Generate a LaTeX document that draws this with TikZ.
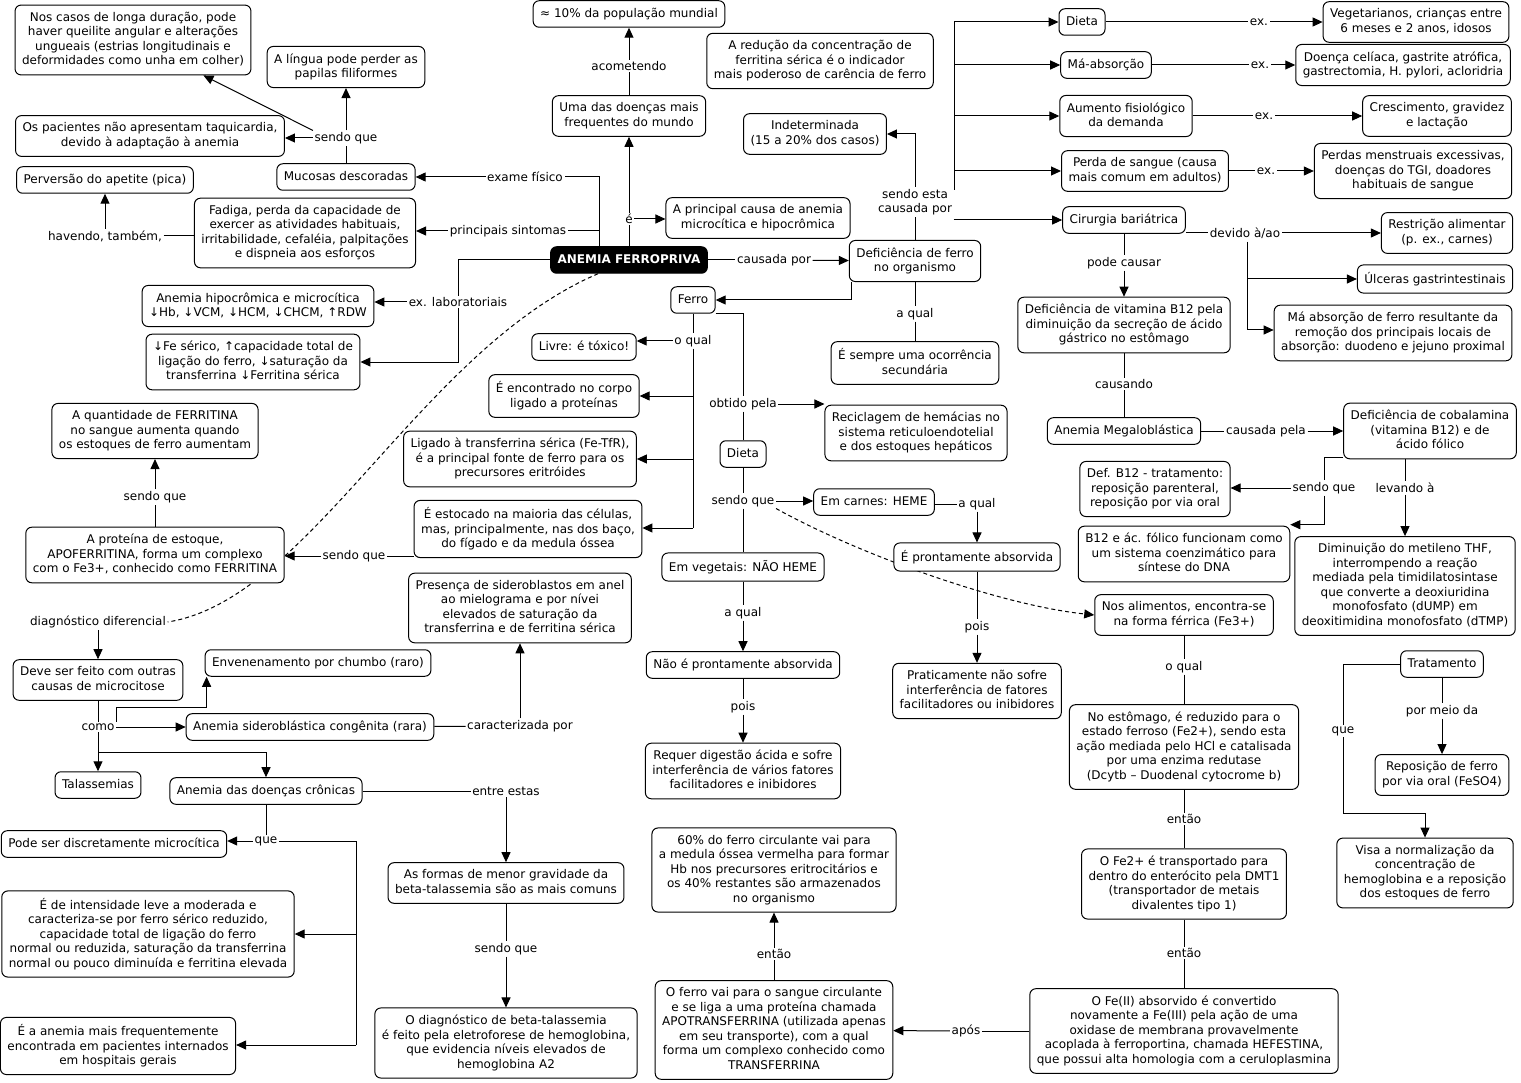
\documentclass[tikz,border=0pt]{standalone}
\usepackage{fontspec}
\newfontfamily\mfam{DejaVu Sans}
\usetikzlibrary{arrows.meta,backgrounds,calc}
\newcommand\mfnt{\mfam\fontsize{12}{14.5}\selectfont}
\newcommand\mfntb{\mfam\bfseries\fontsize{12}{14.5}\selectfont}
\newcommand\sst{\rule[-3pt]{0pt}{12.5pt}}
\begin{document}
\begin{tikzpicture}[x=1pt,y=-1pt,
 box/.style={draw, fill=white, rounded corners=6pt, align=center, inner xsep=7pt, inner ysep=7pt, font=\mfnt, execute at begin node=\sst, execute at end node=\sst, line width=1pt},
 mainbox/.style={box, fill=black, text=white, font=\mfntb},
 lbl/.style={fill=white, inner sep=1.5pt, font=\mfnt, align=center},
 con/.style={line width=1pt},
 arr/.style={con, -{Triangle[length=10pt,width=9pt]}},
 dsh/.style={con, dash pattern=on 4pt off 3pt},
]
\useasboundingbox (0,0) rectangle (1521,1083);
% ---------- boxes ----------
\node[box] (n_queil) at (133,40) {Nos casos de longa duração, pode\\haver queilite angular e alterações\\ungueais (estrias longitudinais e\\deformidades como unha em colher)};
\node[box] (n_lingua) at (346,67) {A língua pode perder as\\papilas filiformes};
\node[box] (n_taqui) at (150,136) {Os pacientes não apresentam taquicardia,\\devido à adaptação à anemia};
\node[box] (n_pica) at (105,180) {Perversão do apetite (pica)};
\node[box] (n_mucosas) at (346,177) {Mucosas descoradas};
\node[box] (n_fadiga) at (305,233) {Fadiga, perda da capacidade de\\exercer as atividades habituais,\\irritabilidade, cefaléia, palpitações\\e dispneia aos esforços};
\node[mainbox] (n_anemia) at (629,260) {ANEMIA FERROPRIVA};
\node[box] (n_uma) at (629,116) {Uma das doenças mais\\frequentes do mundo};
\node[box] (n_pop) at (629,14) {≈ 10\% da população mundial};
\node[box] (n_principal) at (758,218) {A principal causa de anemia\\microcítica e hipocrômica};
\node[box] (n_reducao) at (820,61) {A redução da concentração de\\ferritina sérica é o indicador\\mais poderoso de carência de ferro};
\node[box] (n_indet) at (815,134) {Indeterminada\\(15 a 20\% dos casos)};
\node[box] (n_deffe) at (915,261) {Deficiência de ferro\\no organismo};
\node[box] (n_dieta1) at (1082,22) {Dieta};
\node[box] (n_maabs) at (1106,65) {Má-absorção};
\node[box] (n_aumento) at (1126,116) {Aumento fisiológico\\da demanda};
\node[box] (n_perda) at (1145,171) {Perda de sangue (causa\\mais comum em adultos)};
\node[box] (n_cirurgia) at (1124,220) {Cirurgia bariátrica};
\node[box] (n_veg) at (1416,22) {Vegetarianos, crianças entre\\6 meses e 2 anos, idosos};
\node[box] (n_celiaca) at (1403,65) {Doença celíaca, gastrite atrófica,\\gastrectomia, H. pylori, acloridria};
\node[box] (n_cresc) at (1437,116) {Crescimento, gravidez\\e lactação};
\node[box] (n_perdas) at (1413,171) {Perdas menstruais excessivas,\\doenças do TGI, doadores\\habituais de sangue};
\node[box] (n_restr) at (1447,233) {Restrição alimentar\\(p. ex., carnes)};
\node[box] (n_ulceras) at (1435,279) {Úlceras gastrintestinais};
\node[box] (n_maabs2) at (1393,333) {Má absorção de ferro resultante da\\remoção dos principais locais de\\absorção: duodeno e jejuno proximal};
\node[box] (n_b12) at (1124,325) {Deficiência de vitamina B12 pela\\diminuição da secreção de ácido\\gástrico no estômago};
\node[box] (n_megalo) at (1124,431) {Anemia Megaloblástica};
\node[box] (n_cobal) at (1430,431) {Deficiência de cobalamina\\(vitamina B12) e de\\ácido fólico};
\node[box] (n_defb12) at (1155,489) {Def. B12 - tratamento:\\reposição parenteral,\\reposição por via oral};
\node[box] (n_coenz) at (1184,554) {B12 e ác. fólico funcionam como\\um sistema coenzimático para\\síntese do DNA};
\node[box] (n_thf) at (1405,586) {Diminuição do metileno THF,\\interrompendo a reação\\mediada pela timidilatosintase\\que converte a deoxiuridina\\monofosfato (dUMP) em\\deoxitimidina monofosfato (dTMP)};
\node[box] (n_trat) at (1442,664) {Tratamento};
\node[box] (n_repos) at (1442,775) {Reposição de ferro\\por via oral (FeSO4)};
\node[box] (n_visa) at (1425,873) {Visa a normalização da\\concentração de\\hemoglobina e a reposição\\dos estoques de ferro};
\node[box] (n_alim) at (1184,615) {Nos alimentos, encontra-se\\na forma férrica (Fe3+)};
\node[box] (n_estom) at (1184,747) {No estômago, é reduzido para o\\estado ferroso (Fe2+), sendo esta\\ação mediada pelo HCl e catalisada\\por uma enzima redutase\\(Dcytb – Duodenal cytocrome b)};
\node[box] (n_fe2) at (1184,884) {O Fe2+ é transportado para\\dentro do enterócito pela DMT1\\(transportador de metais\\divalentes tipo 1)};
\node[box] (n_fe3) at (1184,1031) {O Fe(II) absorvido é convertido\\novamente a Fe(III) pela ação de uma\\oxidase de membrana provavelmente\\acoplada à ferroportina, chamada HEFESTINA,\\que possui alta homologia com a ceruloplasmina};
\node[box] (n_ferrovai) at (774,1030) {O ferro vai para o sangue circulante\\e se liga a uma proteína chamada\\APOTRANSFERRINA (utilizada apenas\\em seu transporte), com a qual\\forma um complexo conhecido como\\TRANSFERRINA};
\node[box] (n_60) at (774,870) {60\% do ferro circulante vai para\\a medula óssea vermelha para formar\\Hb nos precursores eritrocitários e\\os 40\% restantes são armazenados\\no organismo};
\node[box] (n_sempre) at (915,363) {É sempre uma ocorrência\\secundária};
\node[box] (n_ferro) at (693,300) {Ferro};
\node[box] (n_livre) at (584,347) {Livre: é tóxico!};
\node[box] (n_encontrado) at (564,396) {É encontrado no corpo\\ligado a proteínas};
\node[box] (n_ligado) at (520,459) {Ligado à transferrina sérica (Fe-TfR),\\é a principal fonte de ferro para os\\precursores eritróides};
\node[box] (n_estocado) at (528,529) {É estocado na maioria das células,\\mas, principalmente, nas dos baço,\\do fígado e da medula óssea};
\node[box] (n_proteina) at (155,555) {A proteína de estoque,\\APOFERRITINA, forma um complexo\\com o Fe3+, conhecido como FERRITINA};
\node[box] (n_quant) at (155,431) {A quantidade de FERRITINA\\no sangue aumenta quando\\os estoques de ferro aumentam};
\node[box] (n_recicl) at (916,433) {Reciclagem de hemácias no\\sistema reticuloendotelial\\e dos estoques hepáticos};
\node[box] (n_dieta2) at (743,454) {Dieta};
\node[box] (n_carnes) at (874,502) {Em carnes: HEME};
\node[box] (n_pront) at (977,557) {É prontamente absorvida};
\node[box] (n_pratic) at (977,691) {Praticamente não sofre\\interferência de fatores\\facilitadores ou inibidores};
\node[box] (n_vegetais) at (743,567) {Em vegetais: NÃO HEME};
\node[box] (n_naopront) at (743,665) {Não é prontamente absorvida};
\node[box] (n_requer) at (743,771) {Requer digestão ácida e sofre\\interferência de vários fatores\\facilitadores e inibidores};
\node[box] (n_hipo) at (258,306) {Anemia hipocrômica e microcítica\\↓Hb, ↓VCM, ↓HCM, ↓CHCM, ↑RDW};
\node[box] (n_fes) at (253,362) {↓Fe sérico, ↑capacidade total de\\ligação do ferro, ↓saturação da\\transferrina ↓Ferritina sérica};
\node[box] (n_deve) at (98,680) {Deve ser feito com outras\\causas de microcitose};
\node[box] (n_envenen) at (318,663) {Envenenamento por chumbo (raro)};
\node[box] (n_sidero) at (310,727) {Anemia sideroblástica congênita (rara)};
\node[box] (n_presenca) at (520,608) {Presença de sideroblastos em anel\\ao mielograma e por nívei\\elevados de saturação da\\transferrina e de ferritina sérica};
\node[box] (n_talass) at (98,785) {Talassemias};
\node[box] (n_cronicas) at (266,791) {Anemia das doenças crônicas};
\node[box] (n_formas) at (506,883) {As formas de menor gravidade da\\beta-talassemia são as mais comuns};
\node[box] (n_diagbeta) at (506,1043) {O diagnóstico de beta-talassemia\\é feito pela eletroforese de hemoglobina,\\que evidencia níveis elevados de\\hemoglobina A2};
\node[box] (n_podeser) at (114,844) {Pode ser discretamente microcítica};
\node[box] (n_intens) at (148,934) {É de intensidade leve a moderada e\\caracteriza-se por ferro sérico reduzido,\\capacidade total de ligação do ferro\\normal ou reduzida, saturação da transferrina\\normal ou pouco diminuída e ferritina elevada};
\node[box] (n_amaisfreq) at (118,1046) {É a anemia mais frequentemente\\encontrada em pacientes internados\\em hospitais gerais};
% ---------- labels ----------
\node[lbl] (l_sq1) at (346,138) {sendo que};
\node[lbl] (l_exame) at (525,177) {exame físico};
\node[lbl] (l_sint) at (508,231) {principais sintomas};
\node[lbl] (l_havendo) at (105,236) {havendo, também,};
\node[lbl] (l_acomet) at (629,66) {acometendo};
\node[lbl] (l_e) at (629,219) {é};
\node[lbl] (l_causadapor) at (774,260) {causada por};
\node[lbl] (l_sendoesta) at (915,202) {sendo esta\\causada por};
\node[lbl] (l_ex1) at (1259,22) {ex.};
\node[lbl] (l_ex2) at (1260,65) {ex.};
\node[lbl] (l_ex3) at (1264,116) {ex.};
\node[lbl] (l_ex4) at (1266,171) {ex.};
\node[lbl] (l_devido) at (1245,233) {devido à/ao};
\node[lbl] (l_podecausar) at (1124,263) {pode causar};
\node[lbl] (l_causando) at (1124,384) {causando};
\node[lbl] (l_causadapela) at (1266,431) {causada pela};
\node[lbl] (l_sqc) at (1324,488) {sendo que};
\node[lbl] (l_lev) at (1405,488) {levando à};
\node[lbl] (l_pormeio) at (1442,711) {por meio da};
\node[lbl] (l_que2) at (1343,731) {que};
\node[lbl] (l_oq2) at (1184,667) {o qual};
\node[lbl] (l_ent1) at (1184,819) {então};
\node[lbl] (l_ent2) at (1184,953) {então};
\node[lbl] (l_apos) at (966,1031) {após};
\node[lbl] (l_ent3) at (774,954) {então};
\node[lbl] (l_aq1) at (915,314) {a qual};
\node[lbl] (l_oq1) at (693,341) {o qual};
\node[lbl] (l_obt) at (743,404) {obtido pela};
\node[lbl] (l_sq5) at (743,501) {sendo que};
\node[lbl] (l_aq2) at (977,504) {a qual};
\node[lbl] (l_pois1) at (977,627) {pois};
\node[lbl] (l_aq3) at (743,613) {a qual};
\node[lbl] (l_pois2) at (743,707) {pois};
\node[lbl] (l_sq3) at (354,556) {sendo que};
\node[lbl] (l_sq4) at (155,497) {sendo que};
\node[lbl] (l_lab) at (458,302) {ex. laboratoriais};
\node[lbl] (l_diag) at (98,622) {diagnóstico diferencial};
\node[lbl] (l_como) at (98,727) {como};
\node[lbl] (l_caract) at (520,726) {caracterizada por};
\node[lbl] (l_entre) at (506,791) {entre estas};
\node[lbl] (l_sq6) at (506,949) {sendo que};
\node[lbl] (l_que) at (266,841) {que};
% ---------- free ends ----------
\coordinate (c_tr) at (954,190);
\coordinate (c_dv) at (1247,242);
\coordinate (c_q2) at (1343,813);
\coordinate (c_f) at (693,528);
\coordinate (c_como) at (98,752);
\coordinate (c_que) at (356,1045);
% ---------- connectors ----------
\begin{pgfonlayer}{background}
\fill[white] (0,0) rectangle (1521,1083);
% top left
\draw[con] (n_mucosas) -- (l_sq1);
\draw[arr] (l_sq1) -- (n_lingua);
\draw[arr] (l_sq1.west) -- (l_sq1.west -| n_taqui.east);
\draw[arr] (l_sq1.north west) -- (n_queil);
\draw[con] ([xshift=-30pt]n_anemia.north) |- (l_exame.east);
\draw[con] ([xshift=-30pt]n_anemia.north) |- (l_sint.east);
\draw[arr] (l_exame.west) -- (l_exame.west -| n_mucosas.east);
\draw[arr] (l_sint.west) -- (l_sint.west -| n_fadiga.east);
\draw[con] (l_havendo.east) -- (l_havendo.east -| n_fadiga.west);
\draw[arr] (l_havendo) -- (n_pica);
% centre top
\draw[arr] (n_anemia) -- (n_uma);
\draw[arr] (l_e.east) -- (l_e.east -| n_principal.west);
\draw[con] (n_uma) -- (l_acomet);
\draw[arr] (l_acomet) -- (n_pop);
\draw[con] (n_anemia) -- (l_causadapor);
\draw[arr] (l_causadapor) -- (n_deffe);
\draw[con] (n_deffe) -- (l_sendoesta);
\draw[arr] (l_sendoesta.north) |- (n_indet.east);
\draw[arr] (c_tr) |- (n_dieta1.west);
\draw[arr] (c_tr) |- (n_maabs.west);
\draw[arr] (c_tr) |- (n_aumento.west);
\draw[arr] (c_tr) |- (n_perda.west);
\draw[arr] (l_sendoesta.east |- n_cirurgia.west) -- (n_cirurgia.west);
% ex.
\draw[con] (n_dieta1) -- (l_ex1);
\draw[arr] (l_ex1) -- (n_veg);
\draw[con] (n_maabs) -- (l_ex2);
\draw[arr] (l_ex2) -- (n_celiaca);
\draw[con] (n_aumento) -- (l_ex3);
\draw[arr] (l_ex3) -- (n_cresc);
\draw[con] (n_perda) -- (l_ex4);
\draw[arr] (l_ex4) -- (n_perdas);
% cirurgia
\draw[con] (n_cirurgia.east |- l_devido.west) -- (l_devido.west);
\draw[arr] (l_devido.east) -- (l_devido.east -| n_restr.west);
\draw[arr] (c_dv) |- (n_ulceras.west);
\draw[arr] (c_dv) |- ([yshift=3pt]n_maabs2.west);
\draw[con] (n_cirurgia) -- (l_podecausar);
\draw[arr] (l_podecausar) -- (n_b12);
\draw[con] (n_b12) -- (l_causando);
\draw[con] (l_causando) -- (n_megalo);
\draw[con] (n_megalo) -- (l_causadapela);
\draw[arr] (l_causadapela) -- (n_cobal);
\draw[con] ([yshift=2pt]n_cobal.south west) -| (l_sqc.north);
\draw[arr] (l_sqc.west) -- (l_sqc.west -| n_defb12.east);
\draw[arr] (l_sqc.south) |- ([yshift=1pt]n_coenz.north east);
\draw[con] (l_lev.north |- n_cobal.south) -- (l_lev.north);
\draw[arr] (l_lev) -- (n_thf);
% tratamento
\draw[con] (n_trat) -- (l_pormeio);
\draw[arr] (l_pormeio) -- (n_repos);
\draw[con] (n_trat.west) -| (l_que2.north);
\draw[con] (l_que2.south) -- (c_q2);
\draw[arr] (c_q2) -| (n_visa.north);
% absorption chain
\draw[con] (n_alim) -- (l_oq2);
\draw[con] (l_oq2) -- (n_estom);
\draw[con] (n_estom) -- (l_ent1);
\draw[con] (l_ent1) -- (n_fe2);
\draw[con] (n_fe2) -- (l_ent2);
\draw[con] (l_ent2) -- (n_fe3);
\draw[con] (n_fe3) -- (l_apos);
\draw[arr] (l_apos) -- (n_ferrovai);
\draw[con] (n_ferrovai) -- (l_ent3);
\draw[arr] (l_ent3) -- (n_60);
% deficiencia / ferro
\draw[con] (n_deffe) -- (l_aq1);
\draw[con] (l_aq1) -- (n_sempre);
\draw[arr] ([xshift=3pt]n_deffe.south west) |- (n_ferro.east);
\draw[con] (n_ferro) -- (l_oq1);
\draw[arr] (l_oq1.west) -- (l_oq1.west -| n_livre.east);
\draw[con] (l_oq1.south) -- (c_f);
\draw[arr] (c_f) -- (c_f -| n_estocado.east);
\draw[arr] (l_oq1.south |- n_encontrado.east) -- (n_encontrado.east);
\draw[arr] (l_oq1.south |- n_ligado.east) -- (n_ligado.east);
\draw[con] (n_ferro.south east) -| (l_obt.north);
\draw[con] (l_obt) -- (n_dieta2);
\draw[arr] (l_obt.east) -- (l_obt.east -| n_recicl.west);
\draw[con] (n_dieta2) -- (l_sq5);
\draw[arr] (l_sq5.east) -- (l_sq5.east -| n_carnes.west);
\draw[con] (l_sq5) -- (n_vegetais);
\draw[con] (n_carnes.east |- l_aq2.west) -- (l_aq2.west);
\draw[arr] (l_aq2) -- (n_pront);
\draw[con] (n_pront) -- (l_pois1);
\draw[arr] (l_pois1) -- (n_pratic);
\draw[dsh, -{Triangle[length=10pt,width=9pt]}] (l_sq5.south east) .. controls (860,555) and (1000,605) .. (n_alim.west);
\draw[con] (n_vegetais) -- (l_aq3);
\draw[arr] (l_aq3) -- (n_naopront);
\draw[con] (n_naopront) -- (l_pois2);
\draw[arr] (l_pois2) -- (n_requer);
% estoque
\draw[con] (n_estocado.west |- l_sq3.east) -- (l_sq3.east);
\draw[arr] (l_sq3.west) -- (l_sq3.west -| n_proteina.east);
\draw[con] (n_proteina) -- (l_sq4);
\draw[arr] (l_sq4) -- (n_quant);
% laboratorio
\draw[con] (n_anemia.west) -| (l_lab.north);
\draw[arr] (l_lab.west) -- (l_lab.west -| n_hipo.east);
\draw[arr] (l_lab.south) |- (n_fes.east);
% diagnostico diferencial
\draw[dsh] ([xshift=-31pt]n_anemia.south) .. controls (420,350) and (310,600) .. (l_diag.east);
\draw[arr] (l_diag) -- (n_deve);
\draw[con] (n_deve) -- (l_como);
\draw[arr] (l_como.east) -- (l_como.east -| n_sidero.west);
\draw[arr] (l_como.north east) |- ([xshift=2pt,yshift=-31pt]n_envenen.south west) -- ([xshift=2pt]n_envenen.south west);
\draw[con] (l_como) -- (c_como);
\draw[arr] (c_como) -- (n_talass);
\draw[arr] (c_como) -| (n_cronicas.north);
\draw[con] (n_sidero) -- (l_caract);
\draw[arr] (l_caract) -- (n_presenca);
\draw[con] (n_cronicas) -- (l_entre);
\draw[arr] (l_entre) -- (n_formas);
\draw[con] (n_formas) -- (l_sq6);
\draw[arr] (l_sq6) -- (n_diagbeta);
\draw[con] (n_cronicas) -- (l_que);
\draw[arr] (l_que.west) -- (l_que.west -| n_podeser.east);
\draw[con] (l_que.east) -| (c_que);
\draw[arr] (c_que) -- (c_que -| n_amaisfreq.east);
\draw[arr] (c_que |- n_intens.east) -- (n_intens.east);
\end{pgfonlayer}
\end{tikzpicture}
\end{document}
